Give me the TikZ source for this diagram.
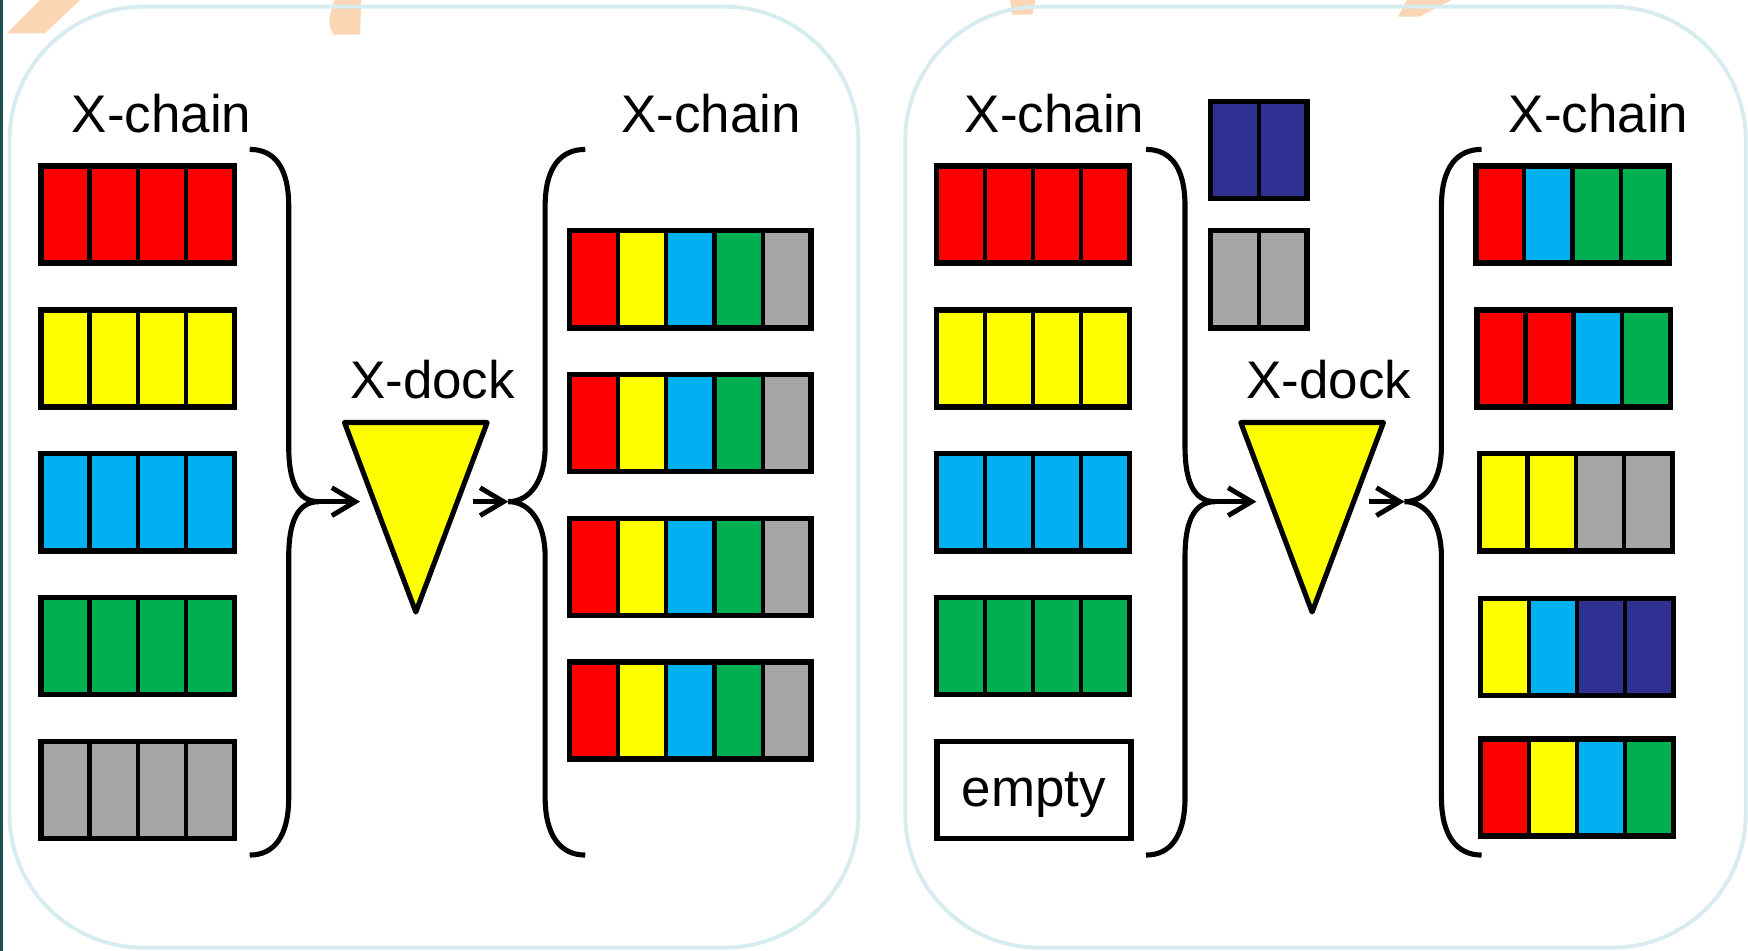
\documentclass[tikz,border=0pt]{standalone}
\usepackage{fontspec}
\setmainfont{Liberation Sans}
\usetikzlibrary{arrows.meta}
\tikzset{ > = {Straight Barb[length=2.1mm, width=2.5mm]} }

\definecolor{xred}{HTML}{FF0000}
\definecolor{xyellow}{HTML}{FFFF00}
\definecolor{xcyan}{HTML}{00B0F0}
\definecolor{xgreen}{HTML}{00B050}
\definecolor{xgray}{HTML}{A6A6A6}
\definecolor{xnavy}{HTML}{2E3192}
\definecolor{panelblue}{HTML}{D6ECEF}
\definecolor{smudge}{HTML}{FBD5B4}
\definecolor{edgeteal}{HTML}{1E5052}

\tikzset{
  cell/.style = { draw, line width = 1.1pt, minimum width = 4.33mm,
                  minimum height = 8.7mm, inner sep = 0pt, outer sep = 0pt },
  barframe/.style = { draw, line width = 1.4pt, minimum height = 8.7mm,
                      inner sep = 0pt, outer sep = 0pt },
  panel/.style = { draw = panelblue, line width = 1pt, rounded corners = 1.2cm },
  brace/.style = { draw, line width = 1.3pt },
  link/.style = { line width = 1.25pt },
  dock/.style = { draw, fill = xyellow, line width = 1.3pt, line join = round }
}

% a bar of cells: name, left x, top y, number of cells, colours
\newcommand{\chainbar}[5]{%
  \foreach \col [count=\i] in {#5}
    \node (#1-\i) [cell, fill=\col] at ({#2+(\i-0.5)*43.3}, {#3+43.5}) {};
  \node (#1) [barframe, minimum width = #4*4.33mm] at ({#2+#4*21.65}, {#3+43.5}) {};
}

\begin{document}
\begin{tikzpicture}
  [
    x = 0.01cm, y = -0.01cm,
    every node/.style = { font = \fontsize{13.5}{16}\selectfont }
  ]
    \useasboundingbox (0,0) rectangle (1568,853);
    \clip (0,0) rectangle (1568,853);

    % slide background bits
    \fill [edgeteal] (0,0) rectangle (3,853);
    \fill [smudge] (6,30) -- (40,30) -- (72,0) -- (36,0) -- cycle;
    \fill [smudge] (300,0) -- (324,0) -- (323,31) -- (299,31) .. controls (294,20) .. (300,0);
    \fill [smudge] (906,0) -- (929,0) -- (926,13) -- (908,13) -- cycle;
    \fill [smudge] (1254,15) -- (1273,15) -- (1302,0) -- (1262,0) -- cycle;

    % the two panels
    \draw [panel] (8.5,6) rectangle (770,850);
    \draw [panel] (812,6) rectangle (1566,850);

    % labels
    \node (a-inlabel)  [anchor=base] at (145,119)  {X-chain};
    \node (a-outlabel) [anchor=base] at (638,119)  {X-chain};
    \node (b-inlabel)  [anchor=base] at (946,119)  {X-chain};
    \node (b-outlabel) [anchor=base] at (1434,119) {X-chain};

    % left panel: incoming chains
    \chainbar{a-in1}{37}{149}{4}{xred,xred,xred,xred}
    \chainbar{a-in2}{37}{278}{4}{xyellow,xyellow,xyellow,xyellow}
    \chainbar{a-in3}{37}{407}{4}{xcyan,xcyan,xcyan,xcyan}
    \chainbar{a-in4}{37}{536}{4}{xgreen,xgreen,xgreen,xgreen}
    \chainbar{a-in5}{37}{665}{4}{xgray,xgray,xgray,xgray}

    % left panel: outgoing chains
    \chainbar{a-out1}{511}{207}{5}{xred,xyellow,xcyan,xgreen,xgray}
    \chainbar{a-out2}{511}{336}{5}{xred,xyellow,xcyan,xgreen,xgray}
    \chainbar{a-out3}{511}{465}{5}{xred,xyellow,xcyan,xgreen,xgray}
    \chainbar{a-out4}{511}{594}{5}{xred,xyellow,xcyan,xgreen,xgray}

    % right panel: incoming chains and spare blocks
    \chainbar{b-in1}{840}{149}{4}{xred,xred,xred,xred}
    \chainbar{b-in2}{840}{278}{4}{xyellow,xyellow,xyellow,xyellow}
    \chainbar{b-in3}{840}{407}{4}{xcyan,xcyan,xcyan,xcyan}
    \chainbar{b-in4}{840}{536}{4}{xgreen,xgreen,xgreen,xgreen}
    \node (b-empty) [barframe, minimum width = 17.4mm, text depth = 0pt]
      at (927.5,708.5) {empty};
    \chainbar{b-spare1}{1086}{91}{2}{xnavy,xnavy}
    \chainbar{b-spare2}{1086}{207}{2}{xgray,xgray}

    % right panel: outgoing chains
    \chainbar{b-out1}{1324}{149}{4}{xred,xcyan,xgreen,xgreen}
    \chainbar{b-out2}{1325}{278}{4}{xred,xred,xcyan,xgreen}
    \chainbar{b-out3}{1327}{407}{4}{xyellow,xyellow,xgray,xgray}
    \chainbar{b-out4}{1328}{537}{4}{xyellow,xcyan,xnavy,xnavy}
    \chainbar{b-out5}{1328}{663}{4}{xred,xyellow,xcyan,xgreen}

    % braces, dock and arrows, same in both panels
    \foreach \p/\dx in {a/0, b/804} {
      \begin{scope}[shift={(\dx,0)}]
        \coordinate (\p-tipin)   at (286,450);
        \coordinate (\p-dockin)  at (323,450);
        \coordinate (\p-dockout) at (424,450);
        \coordinate (\p-tipout)  at (456,450);

        \draw [brace] (224,134) .. controls (246,134) and (259,150) .. (259,185)
          -- (259,401) .. controls (259,430) and (266,450) .. (\p-tipin)
          .. controls (266,450) and (259,470) .. (259,499)
          -- (259,715) .. controls (259,750) and (246,767) .. (224,767);
        \draw [brace] (525,134) .. controls (503,134) and (489,150) .. (489,185)
          -- (489,401) .. controls (489,430) and (476,450) .. (\p-tipout)
          .. controls (476,450) and (489,470) .. (489,499)
          -- (489,715) .. controls (489,750) and (503,767) .. (525,767);

        \draw [dock] (309,379) -- (437,379) -- (373,549) -- cycle;
        \node (\p-docklabel) [anchor=base] at (388,357) {X-dock};

        \draw [->, link] (\p-tipin) -- (\p-dockin);
        \draw [->, link] (\p-dockout) -- (\p-tipout);
      \end{scope}
    }
  \end{tikzpicture}
\end{document}
